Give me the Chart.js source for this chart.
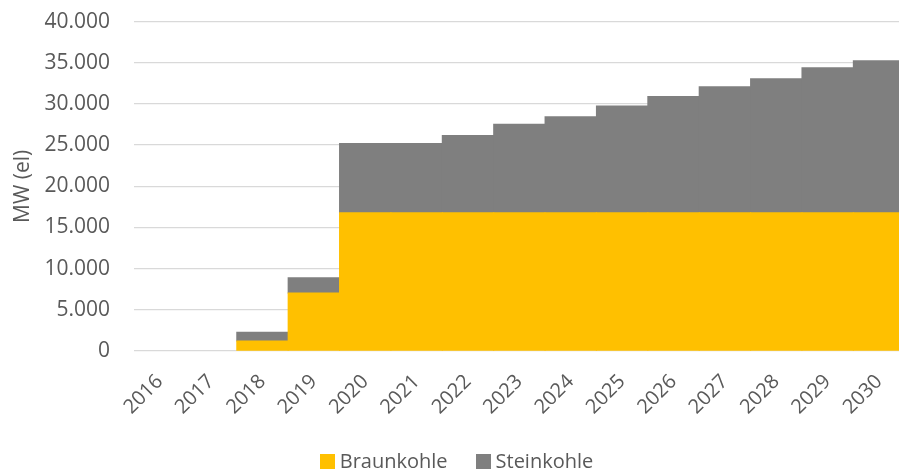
<!DOCTYPE html>
<html>
<head>
<meta charset="utf-8">
<script src="https://cdn.jsdelivr.net/npm/chart.js@4"></script>
<style>
  html, body { margin: 0; padding: 0; overflow: hidden; background: #fff; }
  #wrap { position: relative; width: 907px; height: 473px; }
  #box { position: absolute; left: 0; top: -15px; width: 907px; height: 488px; }
  #legend {
    position: absolute; left: 0; top: 449px; width: 913px;
    text-align: center; font-family: 'Open Sans', sans-serif;
    font-size: 20px; color: #595959; line-height: 24px; white-space: nowrap;
  }
  #legend span.item { display: inline-block; margin: 0 14px; }
  #legend span.box {
    display: inline-block; width: 15px; height: 15px;
    margin-right: 5px; vertical-align: -1px;
  }
</style>
</head>
<body>
<div id="wrap">
  <div id="box"><canvas id="myChart"></canvas></div>
  <div id="legend"></div>
</div>
<script>
let years = ["2016", "2017", "2018", "2019", "2020", "2021", "2022", "2023",
  "2024", "2025", "2026", "2027", "2028", "2029", "2030"];
let braunkohle = [0, 0, 1200, 7050, 16800, 16800, 16800, 16800,
  16800, 16800, 16800, 16800, 16800, 16800, 16800];
let steinkohle = [0, 0, 1070, 1840, 8410, 8410, 9380, 10720,
  11650, 12940, 14110, 15280, 16250, 17590, 18440];

let grey = "#595959";
let font = "'Open Sans', sans-serif";

// 40000 -> "40.000"
function fmt(v) {
  return String(v).replace(/\B(?=(\d{3})+(?!\d))/g, ".");
}

// widen bars a touch so neighbours meet without seams, but leave empty ones flat
let inflate = (ctx) => (ctx.raw ? 0.5 : 0);

const config = {
  type: "bar",
  data: {
    labels: years,
    datasets: [
      {
        label: "Braunkohle",
        data: braunkohle,
        backgroundColor: "#FFC000",
        borderWidth: 0,
        inflateAmount: inflate,
        categoryPercentage: 1,
        barPercentage: 1,
      },
      {
        label: "Steinkohle",
        data: steinkohle,
        backgroundColor: "#7F7F7F",
        borderWidth: 0,
        inflateAmount: inflate,
        categoryPercentage: 1,
        barPercentage: 1,
      },
    ],
  },
  options: {
    responsive: true,
    maintainAspectRatio: false,
    animation: false,
    layout: { padding: { top: 0, left: 0, right: 0, bottom: 0 } },
    plugins: {
      tooltip: { enabled: false },
      legend: { display: false },
    },
    scales: {
      x: {
        stacked: true,
        grid: { display: false },
        border: { display: false },
        afterFit: (s) => {
          s.height = 122;
        },
        ticks: {
          color: grey,
          font: { family: font, size: 20 },
          minRotation: 45,
          maxRotation: 45,
          autoSkip: false,
          padding: 11,
        },
      },
      y: {
        stacked: true,
        min: 0,
        max: 40000,
        afterFit: (s) => {
          s.width = 134;
        },
        grid: { color: "#D9D9D9", lineWidth: 1.3, drawTicks: false },
        border: { display: false },
        ticks: {
          stepSize: 5000,
          color: grey,
          font: { family: font, size: 21 },
          padding: 24,
          callback: (v) => fmt(v),
        },
        title: {
          display: true,
          text: "MW (el)",
          color: grey,
          font: { family: font, size: 21 },
          padding: { top: 10, bottom: 0 },
        },
      },
    },
  },
};

const myChart = new Chart(document.getElementById("myChart"), config);

// legend built from the datasets
let legend = document.getElementById("legend");
config.data.datasets.forEach((ds) => {
  legend.innerHTML += `<span class="item"><span class="box" style="background:${ds.backgroundColor}"></span>${ds.label}</span>`;
});
</script>
</body>
</html>
